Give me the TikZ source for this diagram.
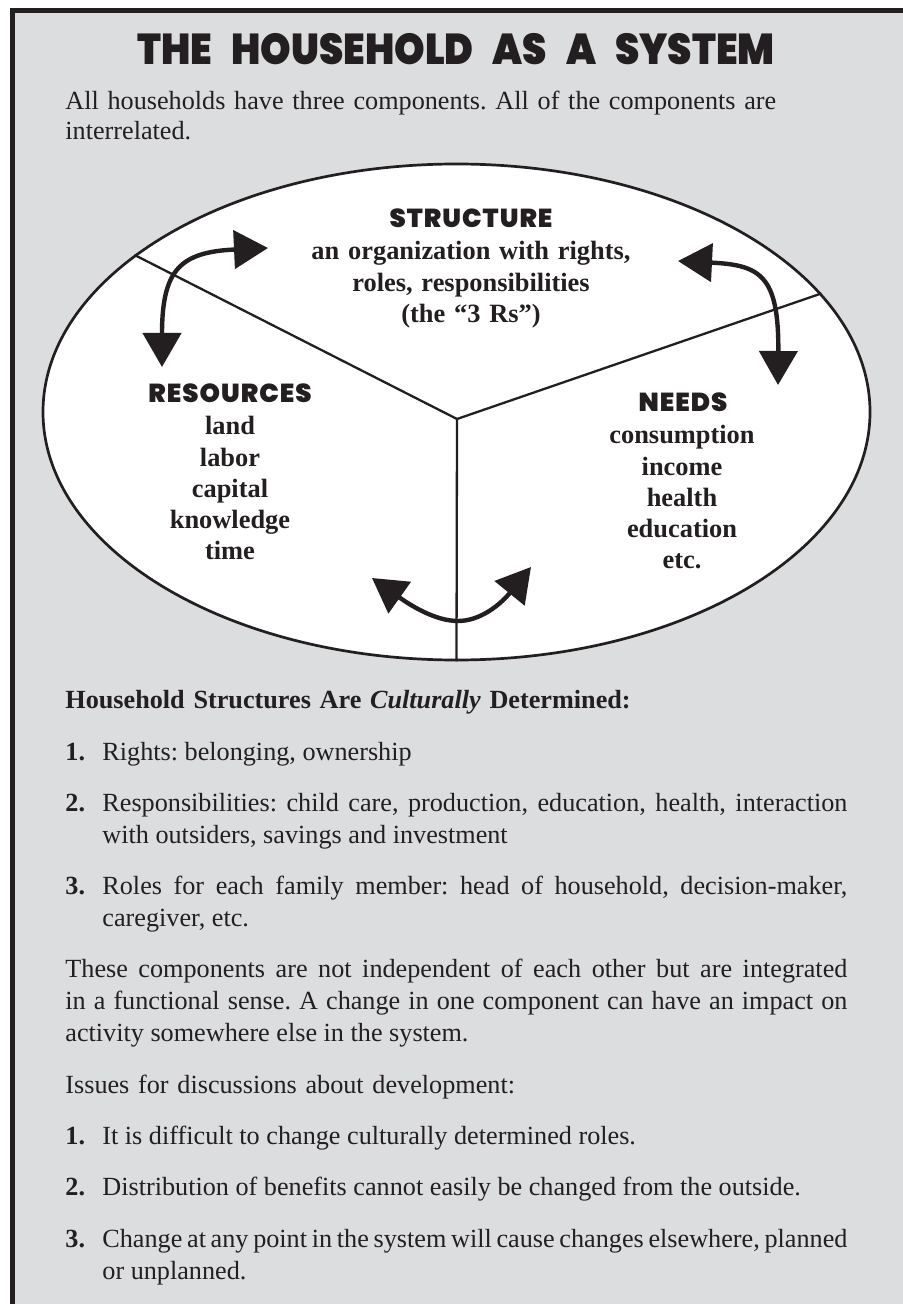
\documentclass[tikz,border=0pt]{standalone}
\usepackage{fontspec}
\setmainfont{Liberation Serif}
\newfontfamily\heavyfont{Poppins Black}[LetterSpace=4]
\newfontfamily\titlefont{Poppins Black}[FakeStretch=0.9]
\usetikzlibrary{arrows.meta,shapes.geometric}
\frenchspacing

\definecolor{ink}{HTML}{231F20}
\definecolor{panel}{HTML}{DCDDDF}

\tikzset{
	heading/.style={font=\heavyfont\fontsize{13}{15}\selectfont, text=ink, anchor=base, inner sep=0pt},
	keyword/.style={font=\bfseries\fontsize{13.2}{15.6}\selectfont, text=ink, text width=110pt, align=center, anchor=base, inner sep=0pt},
	bodytext/.style={font=\fontsize{13.1}{16.1}\selectfont, text=ink, anchor=base west, inner sep=0pt, text width=391pt, align=justify},
	itemtext/.style={bodytext, text width=372.5pt},
	itemnum/.style={font=\bfseries\fontsize{13.1}{16.1}\selectfont, text=ink, anchor=base west, inner sep=0pt},
	divider/.style={draw=ink, line width=1.15pt},
	twoway/.style={draw=ink, line width=2.2pt, {Triangle[length=17pt,width=19pt]}-{Triangle[length=17pt,width=19pt]}}
}

\begin{document}
\begin{tikzpicture}[x=0.5pt, y=-0.5pt]
\useasboundingbox (0,0) rectangle (903,1304);

%panel
\fill[panel] (10,8) rectangle (903,1304);
\draw[ink, line width=2.3pt] (12.5,1304) -- (12.5,10.5) -- (903,10.5);

%title
\node[heading, font=\titlefont\fontsize{21.6}{24}\selectfont] (title) at (456,65) {\spaceskip=9.5pt\relax THE HOUSEHOLD AS A SYSTEM};
\node[bodytext, font=\fontsize{13.1}{15}\selectfont, align=left] (intro) at (65,110) {All households have three components. All of the components are\\interrelated.};

%household ellipse
\node[ellipse, draw=ink, fill=white, line width=1.35pt, minimum width=413.5pt, minimum height=248pt, inner sep=0pt] (hh) at (456.5,412) {};
\coordinate (hub) at (457,419);
\draw[divider] (hub) -- (hh.154.4);
\draw[divider] (hub) -- (hh.18.8);
\draw[divider] (hub) -- (hh.south);

%structure part
\node[heading] (struct) at (471,228) {STRUCTURE};
\node[keyword, text width=200pt] (structtxt) at (471,260) {an organization with rights,\\roles, responsibilities\\(the “3 Rs”)};

%resources part
\node[heading] (res) at (230,402) {RESOURCES};
\node[keyword] (restxt) at (230,435) {land\\labor\\capital\\knowledge\\time};

%needs part
\node[heading] (needs) at (683,412) {NEEDS};
\node[keyword] (needstxt) at (682,444) {consumption\\income\\health\\education\\etc.};

%arrows
\coordinate (resA) at (162,367);
\coordinate (strA) at (268,248);
\coordinate (strB) at (678,261);
\coordinate (needB) at (778,385);
\coordinate (resC) at (372,578);
\coordinate (low) at (458,621);
\coordinate (needC) at (531,567);
\draw[twoway] (resA) .. controls (162,270) and (180,252) .. (strA);
\draw[twoway] (strB) .. controls (760,265) and (779,275) .. (needB);
\draw[twoway] (resC) .. controls (410,605) and (435,621) .. (low) .. controls (480,621) and (500,605) .. (needC);

%structures list
\node[bodytext, font=\bfseries\fontsize{13.1}{16.1}\selectfont, align=left] (culture) at (65,708) {Household Structures Are \textit{Culturally} Determined:};
\node[itemnum] (a1) at (65,760) {1.};
\node[itemtext] (t1) at (102,760) {Rights: belonging, ownership};
\node[itemnum] (a2) at (65,811) {2.};
\node[itemtext] (t2) at (102,811) {Responsibilities: child care, production, education, health, interaction\linebreak with outsiders, savings and investment};
\node[itemnum] (a3) at (65,894) {3.};
\node[itemtext] (t3) at (102,894) {Roles for each family member: head of household, decision-maker,\linebreak caregiver, etc.};

%integration
\node[bodytext] (link) at (65,977) {These components are not independent of each other but are integrated\linebreak in a functional sense. A change in one component can have an impact on\linebreak activity somewhere else in the system.};

%issues list
\node[bodytext, align=left] (issues) at (65,1093) {Issues for discussions about development:};
\node[itemnum] (b1) at (65,1144) {1.};
\node[itemtext] (u1) at (102,1144) {It is difficult to change culturally determined roles.};
\node[itemnum] (b2) at (65,1195) {2.};
\node[itemtext] (u2) at (102,1195) {Distribution of benefits cannot easily be changed from the outside.};
\node[itemnum] (b3) at (65,1247) {3.};
\node[itemtext] (u3) at (102,1247) {{\spaceskip=0.14em plus 0.1em minus 0.03em\relax Change at any point in the system will cause changes elsewhere, planned}\linebreak or unplanned.};

\end{tikzpicture}
\end{document}
